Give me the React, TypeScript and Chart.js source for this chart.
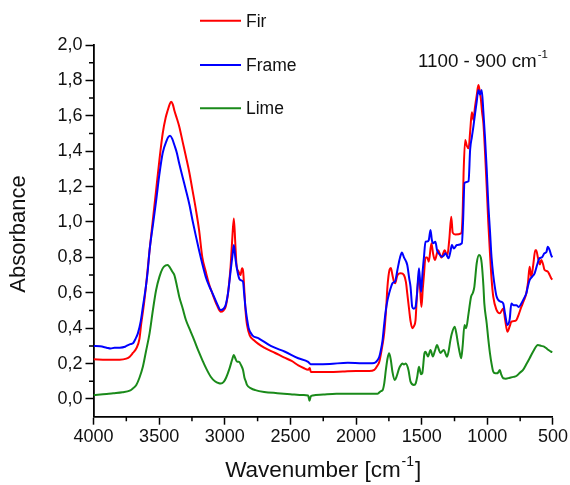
import React, { useEffect, useRef } from "react";
import { Chart, registerables } from "chart.js";

Chart.register(...registerables);

// ---- Data (wavenumber cm-1, absorbance) ----
const WN_FIR = [4000, 3900, 3800, 3750, 3724, 3700, 3674, 3650, 3636, 3615, 3598, 3573, 3548, 3523, 3498, 3473, 3450, 3435, 3420, 3409, 3396, 3384, 3365, 3347, 3320, 3296, 3270, 3246, 3220, 3196, 3171, 3145, 3120, 3095, 3060, 3032, 3010, 2994, 2975, 2956, 2945, 2931, 2920, 2911, 2895, 2881, 2868, 2860, 2850, 2840, 2831, 2810, 2780, 2700, 2616, 2550, 2491, 2440, 2400, 2365, 2352, 2345, 2300, 2200, 2100, 2000, 1900, 1861, 1836, 1823, 1800, 1786, 1770, 1761, 1745, 1735, 1723, 1710, 1702, 1685, 1660, 1635, 1620, 1610, 1595, 1585, 1572, 1560, 1547, 1535, 1521, 1512, 1502, 1492, 1483, 1471, 1458, 1446, 1426, 1413, 1400, 1375, 1350, 1325, 1305, 1290, 1275, 1264, 1244, 1200, 1188, 1181, 1169, 1156, 1143, 1130, 1118, 1106, 1094, 1080, 1068, 1058, 1050, 1040, 1030, 1018, 1005, 993, 980, 968, 955, 930, 905, 890, 879, 865, 847, 830, 817, 800, 779, 760, 741, 720, 703, 690, 678, 665, 650, 635, 628, 615, 600, 590, 575, 565, 540, 525, 514, 505];
const ABS_FIR = [0.224, 0.222, 0.222, 0.228, 0.239, 0.26, 0.286, 0.34, 0.428, 0.54, 0.654, 0.84, 1.01, 1.18, 1.35, 1.5, 1.59, 1.63, 1.665, 1.68, 1.665, 1.63, 1.585, 1.54, 1.45, 1.37, 1.28, 1.18, 1.07, 0.955, 0.8, 0.72, 0.65, 0.597, 0.53, 0.493, 0.5, 0.52, 0.6, 0.747, 0.88, 1.02, 0.88, 0.76, 0.72, 0.7, 0.738, 0.72, 0.6, 0.48, 0.42, 0.36, 0.333, 0.29, 0.26, 0.235, 0.215, 0.19, 0.175, 0.165, 0.175, 0.152, 0.152, 0.152, 0.155, 0.158, 0.158, 0.164, 0.19, 0.21, 0.3, 0.37, 0.52, 0.634, 0.73, 0.74, 0.7, 0.66, 0.654, 0.7, 0.71, 0.7, 0.66, 0.597, 0.5, 0.44, 0.4, 0.41, 0.446, 0.6, 0.7, 0.62, 0.52, 0.62, 0.7, 0.8, 0.8, 0.776, 0.88, 0.82, 0.785, 0.84, 0.8, 0.84, 0.81, 0.9, 1.03, 0.94, 0.93, 0.936, 1.05, 1.275, 1.463, 1.43, 1.416, 1.52, 1.62, 1.576, 1.65, 1.72, 1.774, 1.74, 1.7, 1.62, 1.557, 1.4, 1.2, 1.0, 0.823, 0.68, 0.578, 0.503, 0.484, 0.5, 0.512, 0.45, 0.38, 0.41, 0.437, 0.44, 0.446, 0.48, 0.52, 0.56, 0.597, 0.66, 0.747, 0.69, 0.76, 0.84, 0.84, 0.8, 0.76, 0.785, 0.76, 0.73, 0.72, 0.7, 0.682, 0.675];

const WN_FRAME = [4000, 3950, 3900, 3870, 3840, 3800, 3760, 3749, 3720, 3699, 3680, 3662, 3640, 3624, 3600, 3586, 3573, 3548, 3523, 3498, 3473, 3443, 3430, 3417, 3400, 3384, 3365, 3347, 3320, 3296, 3270, 3246, 3220, 3196, 3170, 3145, 3120, 3095, 3060, 3032, 3010, 2994, 2975, 2956, 2940, 2931, 2920, 2906, 2890, 2881, 2861, 2853, 2843, 2830, 2818, 2790, 2742, 2650, 2541, 2440, 2365, 2352, 2345, 2300, 2200, 2063, 1950, 1861, 1836, 1823, 1810, 1798, 1786, 1773, 1760, 1748, 1735, 1723, 1710, 1702, 1685, 1665, 1650, 1635, 1610, 1595, 1585, 1572, 1560, 1547, 1535, 1521, 1512, 1504, 1495, 1483, 1471, 1458, 1446, 1433, 1423, 1413, 1396, 1383, 1370, 1345, 1332, 1320, 1295, 1282, 1270, 1255, 1232, 1194, 1185, 1174, 1143, 1131, 1118, 1106, 1094, 1081, 1068, 1056, 1043, 1030, 1018, 1005, 993, 980, 968, 955, 943, 930, 917, 900, 879, 865, 847, 830, 817, 800, 779, 760, 741, 720, 703, 690, 678, 660, 640, 620, 603, 585, 565, 550, 540, 525, 514, 505];
const ABS_FRAME = [0.3, 0.298, 0.29, 0.285, 0.29, 0.29, 0.295, 0.3, 0.31, 0.315, 0.34, 0.371, 0.44, 0.52, 0.64, 0.73, 0.84, 0.98, 1.12, 1.27, 1.39, 1.46, 1.48, 1.487, 1.47, 1.435, 1.39, 1.33, 1.25, 1.18, 1.1, 1.01, 0.92, 0.84, 0.76, 0.69, 0.64, 0.6, 0.54, 0.503, 0.51, 0.53, 0.6, 0.72, 0.82, 0.87, 0.8, 0.73, 0.68, 0.672, 0.663, 0.6, 0.52, 0.45, 0.4, 0.36, 0.343, 0.3, 0.267, 0.23, 0.21, 0.2, 0.196, 0.196, 0.198, 0.205, 0.202, 0.204, 0.22, 0.239, 0.28, 0.333, 0.42, 0.503, 0.56, 0.597, 0.63, 0.654, 0.66, 0.665, 0.729, 0.8, 0.827, 0.8, 0.757, 0.68, 0.634, 0.52, 0.51, 0.52, 0.6, 0.738, 0.66, 0.606, 0.7, 0.8, 0.889, 0.89, 0.898, 0.955, 0.9, 0.88, 0.889, 0.84, 0.823, 0.804, 0.81, 0.823, 0.795, 0.83, 0.87, 0.85, 0.87, 0.88, 1.0, 1.22, 1.23, 1.41, 1.48, 1.54, 1.61, 1.68, 1.746, 1.72, 1.746, 1.62, 1.48, 1.3, 1.105, 0.95, 0.8, 0.7, 0.634, 0.58, 0.56, 0.55, 0.54, 0.48, 0.418, 0.45, 0.54, 0.53, 0.53, 0.52, 0.54, 0.57, 0.597, 0.64, 0.672, 0.69, 0.71, 0.76, 0.795, 0.8, 0.823, 0.83, 0.86, 0.84, 0.813, 0.8];

const WN_LIME = [4000, 3900, 3850, 3780, 3724, 3700, 3674, 3650, 3624, 3600, 3573, 3548, 3523, 3498, 3473, 3450, 3435, 3420, 3400, 3384, 3365, 3347, 3320, 3296, 3265, 3233, 3200, 3171, 3140, 3107, 3075, 3044, 3030, 3010, 2990, 2965, 2945, 2931, 2920, 2905, 2893, 2875, 2861, 2850, 2840, 2831, 2800, 2767, 2700, 2600, 2500, 2400, 2365, 2355, 2345, 2330, 2250, 2150, 2050, 1950, 1880, 1836, 1810, 1798, 1785, 1773, 1760, 1748, 1735, 1723, 1705, 1690, 1672, 1660, 1647, 1635, 1622, 1601, 1585, 1559, 1545, 1534, 1521, 1505, 1496, 1479, 1471, 1452, 1433, 1415, 1400, 1383, 1370, 1358, 1332, 1307, 1295, 1282, 1270, 1249, 1236, 1224, 1210, 1199, 1188, 1174, 1162, 1143, 1124, 1110, 1099, 1081, 1063, 1050, 1043, 1030, 1023, 1005, 993, 980, 968, 955, 940, 930, 917, 905, 895, 879, 860, 829, 800, 779, 750, 728, 700, 678, 650, 615, 590, 565, 540, 514, 505];
const ABS_LIME = [0.023, 0.028, 0.032, 0.038, 0.047, 0.06, 0.079, 0.12, 0.182, 0.27, 0.371, 0.5, 0.616, 0.69, 0.738, 0.755, 0.757, 0.745, 0.72, 0.7, 0.64, 0.578, 0.51, 0.446, 0.39, 0.333, 0.27, 0.22, 0.17, 0.126, 0.1, 0.089, 0.088, 0.095, 0.12, 0.17, 0.22, 0.249, 0.23, 0.21, 0.21, 0.19, 0.164, 0.12, 0.1, 0.08, 0.06, 0.05, 0.04, 0.033, 0.027, 0.022, 0.02, -0.01, 0.015, 0.02, 0.025, 0.03, 0.03, 0.03, 0.03, 0.03, 0.045, 0.05, 0.09, 0.164, 0.23, 0.258, 0.22, 0.154, 0.107, 0.13, 0.173, 0.19, 0.2, 0.195, 0.2, 0.164, 0.098, 0.079, 0.09, 0.126, 0.182, 0.14, 0.145, 0.258, 0.267, 0.24, 0.277, 0.24, 0.27, 0.305, 0.28, 0.26, 0.277, 0.239, 0.27, 0.33, 0.371, 0.408, 0.37, 0.315, 0.26, 0.23, 0.3, 0.418, 0.4, 0.484, 0.578, 0.6, 0.634, 0.767, 0.813, 0.8, 0.767, 0.64, 0.54, 0.428, 0.34, 0.258, 0.2, 0.154, 0.145, 0.145, 0.15, 0.164, 0.14, 0.117, 0.115, 0.12, 0.125, 0.13, 0.15, 0.164, 0.2, 0.23, 0.27, 0.305, 0.3, 0.295, 0.28, 0.267, 0.265];

const SERIES_NAMES = ["Fir", "Frame", "Lime"];
const SERIES_COLORS = ["#ff0000", "#0000ff", "#1a8a1a"];
const X_TICKS = [4000, 3500, 3000, 2500, 2000, 1500, 1000, 500];
const X_MINOR = [3750, 3250, 2750, 2250, 1750, 1250, 750];
const Y_TICKS = [0, 0.2, 0.4, 0.6, 0.8, 1.0, 1.2, 1.4, 1.6, 1.8, 2.0];
const Y_MINOR = [0.1, 0.3, 0.5, 0.7, 0.9, 1.1, 1.3, 1.5, 1.7, 1.9];
const ANNOTATION = "1100 - 900 cm";
const X_TITLE = "Wavenumber [cm";
const Y_TITLE = "Absorbance";

const FONT = "'Liberation Sans', Arial, sans-serif";

function pts(xs: number[], ys: number[]) {
  return xs.map((x, i) => ({ x, y: ys[i] }));
}

const decorPlugin = {
  id: "decor",
  afterDraw(chart: any) {
    const ctx = chart.ctx;
    const xs = chart.scales.x;
    const ys = chart.scales.y;
    const area = chart.chartArea;
    ctx.save();
    // minor ticks
    ctx.strokeStyle = "#000";
    ctx.lineWidth = 1.5;
    ctx.beginPath();
    X_MINOR.forEach((v) => {
      const px = xs.getPixelForValue(v);
      ctx.moveTo(px, area.bottom);
      ctx.lineTo(px, area.bottom + 4.5);
    });
    Y_MINOR.forEach((v) => {
      const py = ys.getPixelForValue(v);
      ctx.moveTo(area.left, py);
      ctx.lineTo(area.left - 4.5, py);
    });
    ctx.stroke();

    // legend
    ctx.textBaseline = "middle";
    ctx.textAlign = "left";
    ctx.font = `17.5px ${FONT}`;
    const rows = [20.7, 65, 108.3];
    chart.data.datasets.forEach((ds: any, i: number) => {
      const y = rows[i];
      ctx.strokeStyle = ds.borderColor;
      ctx.lineWidth = 2;
      ctx.beginPath();
      ctx.moveTo(200, y);
      ctx.lineTo(241, y);
      ctx.stroke();
      ctx.fillStyle = "#111";
      ctx.fillText(ds.label, 246, y + 1);
    });

    // annotation
    ctx.font = `18.8px ${FONT}`;
    ctx.fillStyle = "#111";
    ctx.fillText(ANNOTATION, 418, 62);
    const aw = ctx.measureText(ANNOTATION).width;
    ctx.font = `11.5px ${FONT}`;
    ctx.fillText("-1", 418 + aw + 1, 55);

    // x title
    ctx.font = `22.5px ${FONT}`;
    const w1 = ctx.measureText(X_TITLE).width;
    ctx.font = `14px ${FONT}`;
    const w2 = ctx.measureText("-1").width;
    ctx.font = `22.5px ${FONT}`;
    const w3 = ctx.measureText("]").width;
    const total = w1 + w2 + 2 + w3;
    const cx = (area.left + area.right) / 2;
    const x0 = cx - total / 2;
    const ty = 471;
    ctx.fillText(X_TITLE, x0, ty);
    ctx.font = `14px ${FONT}`;
    ctx.fillText("-1", x0 + w1 + 1, ty - 9);
    ctx.font = `22.5px ${FONT}`;
    ctx.fillText("]", x0 + w1 + w2 + 2, ty);

    // y title
    ctx.save();
    ctx.translate(19, 234);
    ctx.rotate(-Math.PI / 2);
    ctx.textAlign = "center";
    ctx.font = `22px ${FONT}`;
    ctx.fillText(Y_TITLE, 0, 0);
    ctx.restore();

    ctx.restore();
  },
};

export default function App() {
  const ref = useRef<HTMLCanvasElement | null>(null);
  useEffect(() => {
    if (!ref.current) return;
    const datasets = [
      { label: SERIES_NAMES[0], data: pts(WN_FIR, ABS_FIR), borderColor: SERIES_COLORS[0], order: 1 },
      { label: SERIES_NAMES[1], data: pts(WN_FRAME, ABS_FRAME), borderColor: SERIES_COLORS[1], order: 0 },
      { label: SERIES_NAMES[2], data: pts(WN_LIME, ABS_LIME), borderColor: SERIES_COLORS[2], order: 2 },
    ].map((d) => ({
      ...d,
      backgroundColor: d.borderColor,
      borderWidth: 2,
      pointRadius: 0,
      fill: false,
      cubicInterpolationMode: "monotone" as const,
    }));
    const chart = new Chart(ref.current, {
      type: "line",
      data: { datasets },
      options: {
        animation: false,
        responsive: false,
        devicePixelRatio: 1,
        layout: { padding: { left: 0, right: 13, top: 45, bottom: 0 }, autoPadding: false },
        plugins: { legend: { display: false }, tooltip: { enabled: false } },
        scales: {
          x: {
            type: "linear",
            reverse: true,
            min: 500,
            max: 4000,
            afterBuildTicks: (s: any) => {
              s.ticks = X_TICKS.map((v) => ({ value: v }));
            },
            afterFit: (s: any) => {
              s.height = 68.3;
            },
            ticks: {
              autoSkip: false,
              maxRotation: 0,
              padding: 2,
              color: "#111",
              font: { family: FONT, size: 18 },
              callback: (v: any) => String(v),
            },
            grid: { drawOnChartArea: false, drawTicks: true, tickLength: 8, tickColor: "#000", tickWidth: 1.5 },
            border: { display: true, color: "#000", width: 1.8 },
          },
          y: {
            type: "linear",
            min: -0.1,
            max: 2.0,
            afterBuildTicks: (s: any) => {
              s.ticks = Y_TICKS.map((v) => ({ value: v }));
            },
            afterFit: (s: any) => {
              s.width = 93.5;
            },
            ticks: {
              autoSkip: false,
              padding: 3,
              color: "#111",
              font: { family: FONT, size: 18 },
              callback: (v: any) => Number(v).toFixed(1).replace(".", ","),
            },
            grid: { drawOnChartArea: false, drawTicks: true, tickLength: 8, tickColor: "#000", tickWidth: 1.5 },
            border: { display: true, color: "#000", width: 1.8 },
          },
        },
      },
      plugins: [decorPlugin],
    });
    return () => chart.destroy();
  }, []);
  return (
    <div style={{ position: "absolute", left: 0, top: 0, width: 570, height: 485, background: "#fff" }}>
      <canvas ref={ref} width={570} height={485} style={{ display: "block", width: 570, height: 485 }} />
    </div>
  );
}
